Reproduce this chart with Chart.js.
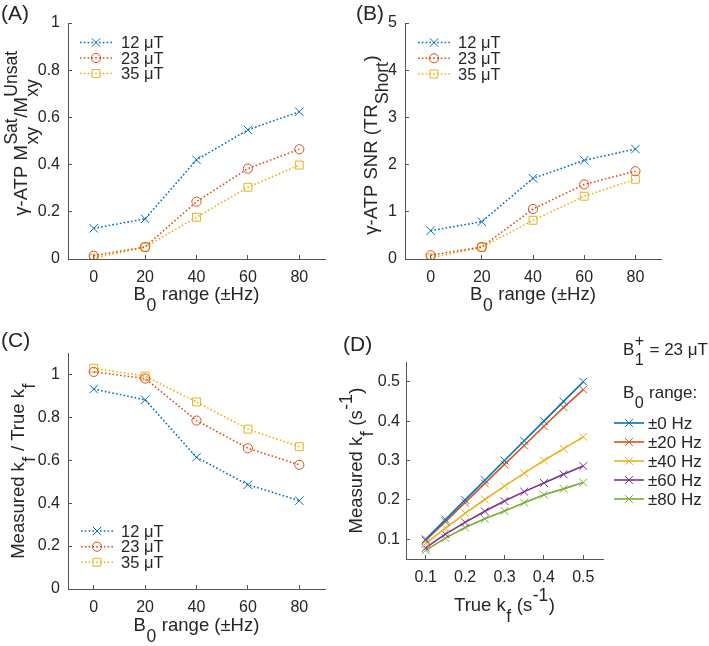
<!DOCTYPE html>
<html>
<head>
<meta charset="utf-8">
<script src="https://cdn.jsdelivr.net/npm/chart.js@4.4.1/dist/chart.umd.min.js"></script>
<style>
  html, body { margin: 0; padding: 0; background: #fff; }
  #wrap { position: relative; width: 709px; height: 646px; }
  #wrap canvas { position: absolute; left: 0; top: 0; }
</style>
</head>
<body>
<div id="wrap">
  <canvas id="panelA" width="709" height="646"></canvas>
  <canvas id="panelB" width="709" height="646"></canvas>
  <canvas id="panelC" width="709" height="646"></canvas>
  <canvas id="panelD" width="709" height="646"></canvas>
</div>
<script>
// ---- data ----
const b0Range = [0, 20, 40, 60, 80];
const b1Labels = ['12 μT', '23 μT', '35 μT'];

// (A) gamma-ATP Msat/Munsat
const ratio12 = [0.13, 0.17, 0.42, 0.547, 0.624];
const ratio23 = [0.014, 0.051, 0.243, 0.383, 0.465];
const ratio35 = [0.003, 0.05, 0.177, 0.304, 0.398];

// (B) gamma-ATP SNR (TR short)
const snr12 = [0.6, 0.79, 1.71, 2.09, 2.33];
const snr23 = [0.08, 0.254, 1.06, 1.58, 1.86];
const snr35 = [0.02, 0.25, 0.82, 1.33, 1.69];

// (C) measured kf / true kf
const kfRatio12 = [0.932, 0.882, 0.614, 0.486, 0.412];
const kfRatio23 = [1.012, 0.981, 0.785, 0.656, 0.579];
const kfRatio35 = [1.029, 0.992, 0.872, 0.745, 0.663];

// (D) measured kf vs true kf, B1+ = 23 uT
const trueKf = [0.1, 0.15, 0.2, 0.25, 0.3, 0.35, 0.4, 0.45, 0.5];
const measKf0 = [0.1, 0.15, 0.2, 0.25, 0.3, 0.35, 0.4, 0.45, 0.5];
const measKf20 = [0.097, 0.145, 0.193, 0.242, 0.29, 0.338, 0.387, 0.435, 0.48];
const measKf40 = [0.09, 0.128, 0.166, 0.201, 0.235, 0.268, 0.3, 0.33, 0.36];
const measKf60 = [0.078, 0.113, 0.143, 0.171, 0.197, 0.221, 0.243, 0.265, 0.286];
const measKf80 = [0.072, 0.103, 0.13, 0.152, 0.172, 0.193, 0.213, 0.228, 0.244];
const b0Labels = ['±0 Hz', '±20 Hz', '±40 Hz', '±60 Hz', '±80 Hz'];

// tick labels
const b0Ticks = [0, 20, 40, 60, 80];
const ratioTicks = [0, 0.2, 0.4, 0.6, 0.8, 1];
const snrTicks = [0, 1, 2, 3, 4, 5];
const kfRatioTicks = [0, 0.2, 0.4, 0.6, 0.8, 1];
const kfTicks = [0.1, 0.2, 0.3, 0.4, 0.5];

// ---- styling ----
const FAMILY = '"Liberation Sans", Arial, Helvetica, sans-serif';
const TXT = '#262626';
const AXIS = '#555555';
const COLORS = ['#0072BD', '#D95319', '#EDB120', '#7E2F8E', '#77AC30'];
const SCRIPT = 0.95;
const TITLE_SIZE = 18.5;

function fnt(size) { return size + 'px ' + FAMILY; }

// width of a rich text label (plain strings, or {sub, sup})
function richWidth(ctx, segs, size) {
  let w = 0;
  for (const s of segs) {
    if (typeof s === 'string') {
      ctx.font = fnt(size);
      w += ctx.measureText(s).width;
    } else {
      ctx.font = fnt(size * SCRIPT);
      const a = s.sub ? ctx.measureText(s.sub).width : 0;
      const b = s.sup ? ctx.measureText(s.sup).width : 0;
      w += Math.max(a, b) + 1;
    }
  }
  return w;
}

function drawRich(ctx, segs, x, y, size, align, angle) {
  ctx.save();
  ctx.translate(x, y);
  if (angle) ctx.rotate(angle);
  ctx.fillStyle = TXT;
  ctx.textBaseline = 'alphabetic';
  ctx.textAlign = 'left';
  let cx = align === 'center' ? -richWidth(ctx, segs, size) / 2 : 0;
  for (const s of segs) {
    if (typeof s === 'string') {
      ctx.font = fnt(size);
      ctx.fillText(s, cx, 0);
      cx += ctx.measureText(s).width;
    } else {
      ctx.font = fnt(size * SCRIPT);
      let w = 0;
      if (s.sub) { ctx.fillText(s.sub, cx + 0.5, size * 0.6); w = ctx.measureText(s.sub).width; }
      if (s.sup) { ctx.fillText(s.sup, cx + 0.5, -size * 0.55); w = Math.max(w, ctx.measureText(s.sup).width); }
      cx += w + 1;
    }
  }
  ctx.restore();
}

function drawMarker(ctx, style, x, y, r, color) {
  ctx.save();
  ctx.strokeStyle = color;
  ctx.lineWidth = 1;
  ctx.setLineDash([]);
  ctx.beginPath();
  if (style === 'crossRot') {
    const d = r * Math.SQRT1_2;
    ctx.moveTo(x - d, y - d); ctx.lineTo(x + d, y + d);
    ctx.moveTo(x - d, y + d); ctx.lineTo(x + d, y - d);
  } else if (style === 'circle') {
    ctx.arc(x, y, r, 0, Math.PI * 2);
  } else if (style === 'rect') {
    const d = r * Math.SQRT1_2;
    ctx.rect(x - d, y - d, 2 * d, 2 * d);
  }
  ctx.stroke();
  ctx.restore();
}

// axis titles, panel letter and legend drawn as canvas text
const decoPlugin = {
  id: 'deco',
  afterDraw(chart, args, o) {
    const ctx = chart.ctx;
    const a = chart.chartArea;
    if (o.xTitle) drawRich(ctx, o.xTitle, (a.left + a.right) / 2, o.xTitleY, TITLE_SIZE, 'center', 0);
    if (o.yTitle) drawRich(ctx, o.yTitle, o.yTitleX, (a.top + a.bottom) / 2 + (o.yShift || 0), TITLE_SIZE, 'center', -Math.PI / 2);
    if (o.letter) {
      ctx.save();
      ctx.font = fnt(21);
      ctx.fillStyle = TXT;
      ctx.textBaseline = 'alphabetic';
      ctx.fillText(o.letter, o.letterX, o.letterY);
      ctx.restore();
    }
    (o.headers || []).forEach(h => drawRich(ctx, h.segs, h.x, h.y, 17, 'left', 0));
    const lg = o.legend;
    if (lg) {
      chart.data.datasets.forEach((ds, i) => {
        const y = lg.rows[i];
        ctx.save();
        ctx.strokeStyle = ds.borderColor;
        ctx.lineWidth = ds.borderWidth;
        ctx.setLineDash(ds.borderDash || []);
        ctx.beginPath();
        ctx.moveTo(lg.x0, y);
        ctx.lineTo(lg.x1, y);
        ctx.stroke();
        ctx.restore();
        drawMarker(ctx, ds.pointStyle, (lg.x0 + lg.x1) / 2, y, ds.pointRadius, ds.borderColor);
        ctx.save();
        ctx.font = fnt(lg.size);
        ctx.fillStyle = TXT;
        ctx.textBaseline = 'middle';
        ctx.fillText(ds.label, lg.textX, y + 1);
        ctx.restore();
      });
    }
  }
};

function series(xs, ys, label, color, style, radius, dotted) {
  return {
    label: label,
    data: xs.map((x, i) => ({ x: x, y: ys[i] })),
    borderColor: color,
    backgroundColor: color,
    borderWidth: 1.6,
    borderDash: dotted ? [1.6, 2.2] : [],
    pointStyle: style,
    pointRadius: radius,
    pointBorderWidth: 1,
    pointBorderColor: color,
    pointBackgroundColor: 'rgba(0,0,0,0)',
    fill: false,
    tension: 0
  };
}

function axis(min, max, ticks, pos, size, pad) {
  return {
    type: 'linear',
    position: pos,
    min: min,
    max: max,
    afterBuildTicks: s => { s.ticks = ticks.map(v => ({ value: v })); },
    afterFit: s => { if (pos === 'left') s.width = size; else s.height = size; },
    grid: { drawOnChartArea: false, drawTicks: true, tickLength: -4, color: AXIS, lineWidth: 1 },
    border: { display: true, color: AXIS, width: 1 },
    ticks: {
      autoSkip: false, maxRotation: 0, padding: pad, color: TXT,
      font: { family: FAMILY, size: 16 },
      callback: v => String(v)
    },
    title: { display: false }
  };
}

function makePanel(id, area, xAx, yAx, datasets, deco) {
  const yW = 40, xH = 40;
  return new Chart(document.getElementById(id), {
    type: 'line',
    data: { datasets: datasets },
    options: {
      responsive: false,
      animation: false,
      events: [],
      layout: {
        padding: { left: area.l - yW, top: area.t, right: 709 - area.r, bottom: 646 - area.b - xH }
      },
      scales: {
        x: axis(xAx.min, xAx.max, xAx.ticks, 'bottom', xH, xAx.pad),
        y: axis(yAx.min, yAx.max, yAx.ticks, 'left', yW, yAx.pad)
      },
      plugins: { legend: { display: false }, tooltip: { enabled: false }, deco: deco }
    },
    plugins: [decoPlugin]
  });
}

const b0Title = ['B', { sub: '0' }, ' range (±Hz)'];

makePanel('panelA', { l: 68, t: 23, r: 325, b: 259 },
  { min: -10, max: 90, ticks: b0Ticks, pad: 13 },
  { min: 0, max: 1, ticks: ratioTicks, pad: 12 },
  [
    series(b0Range, ratio12, b1Labels[0], COLORS[0], 'crossRot', 6, true),
    series(b0Range, ratio23, b1Labels[1], COLORS[1], 'circle', 4.6, true),
    series(b0Range, ratio35, b1Labels[2], COLORS[2], 'rect', 5.6, true)
  ],
  {
    xTitle: b0Title, xTitleY: 300,
    yTitle: ['γ-ATP M', { sub: 'xy', sup: 'Sat' }, '/M', { sub: 'xy', sup: 'Unsat' }], yTitleX: 27, yShift: -8,
    letter: '(A)', letterX: 1, letterY: 20,
    legend: { x0: 80, x1: 112, textX: 121, rows: [42.5, 58, 73.5], size: 16.5 }
  });

makePanel('panelB', { l: 405, t: 23, r: 661, b: 259 },
  { min: -10, max: 90, ticks: b0Ticks, pad: 13 },
  { min: 0, max: 5, ticks: snrTicks, pad: 12 },
  [
    series(b0Range, snr12, b1Labels[0], COLORS[0], 'crossRot', 6, true),
    series(b0Range, snr23, b1Labels[1], COLORS[1], 'circle', 4.6, true),
    series(b0Range, snr35, b1Labels[2], COLORS[2], 'rect', 5.6, true)
  ],
  {
    xTitle: b0Title, xTitleY: 300,
    yTitle: ['γ-ATP SNR (TR', { sub: 'Short' }, ')'], yTitleX: 377, yShift: 4,
    letter: '(B)', letterX: 356, letterY: 20,
    legend: { x0: 418, x1: 450, textX: 458, rows: [42.5, 58.3, 74], size: 16.5 }
  });

makePanel('panelC', { l: 68, t: 353, r: 325, b: 589 },
  { min: -10, max: 90, ticks: b0Ticks, pad: 13 },
  { min: 0, max: 1.1, ticks: kfRatioTicks, pad: 12 },
  [
    series(b0Range, kfRatio12, b1Labels[0], COLORS[0], 'crossRot', 6, true),
    series(b0Range, kfRatio23, b1Labels[1], COLORS[1], 'circle', 4.6, true),
    series(b0Range, kfRatio35, b1Labels[2], COLORS[2], 'rect', 5.6, true)
  ],
  {
    xTitle: b0Title, xTitleY: 631,
    yTitle: ['Measured k', { sub: 'f' }, ' / True k', { sub: 'f' }], yTitleX: 24,
    letter: '(C)', letterX: 1, letterY: 347,
    legend: { x0: 81, x1: 113, textX: 121, rows: [531, 546.7, 562.3], size: 16.5 }
  });

makePanel('panelD', { l: 406, t: 362, r: 603, b: 559 },
  { min: 0.05, max: 0.55, ticks: kfTicks, pad: 13 },
  { min: 0.05, max: 0.55, ticks: kfTicks, pad: 10 },
  [
    series(trueKf, measKf0, b0Labels[0], COLORS[0], 'crossRot', 5.5, false),
    series(trueKf, measKf20, b0Labels[1], COLORS[1], 'crossRot', 5.5, false),
    series(trueKf, measKf40, b0Labels[2], COLORS[2], 'crossRot', 5.5, false),
    series(trueKf, measKf60, b0Labels[3], COLORS[3], 'crossRot', 5.5, false),
    series(trueKf, measKf80, b0Labels[4], COLORS[4], 'crossRot', 5.5, false)
  ],
  {
    xTitle: ['True k', { sub: 'f' }, ' (s', { sup: '-1' }, ')'], xTitleY: 611,
    yTitle: ['Measured k', { sub: 'f' }, ' (s', { sup: '-1' }, ')'], yTitleX: 362,
    letter: '(D)', letterX: 343, letterY: 351,
    headers: [
      { segs: ['B', { sub: '1', sup: '+' }, ' = 23 μT'], x: 623, y: 355 },
      { segs: ['B', { sub: '0' }, ' range:'], x: 623, y: 398 }
    ],
    legend: { x0: 614, x1: 644, textX: 648, rows: [423, 442, 461, 480, 499], size: 17 }
  });
</script>
</body>
</html>
